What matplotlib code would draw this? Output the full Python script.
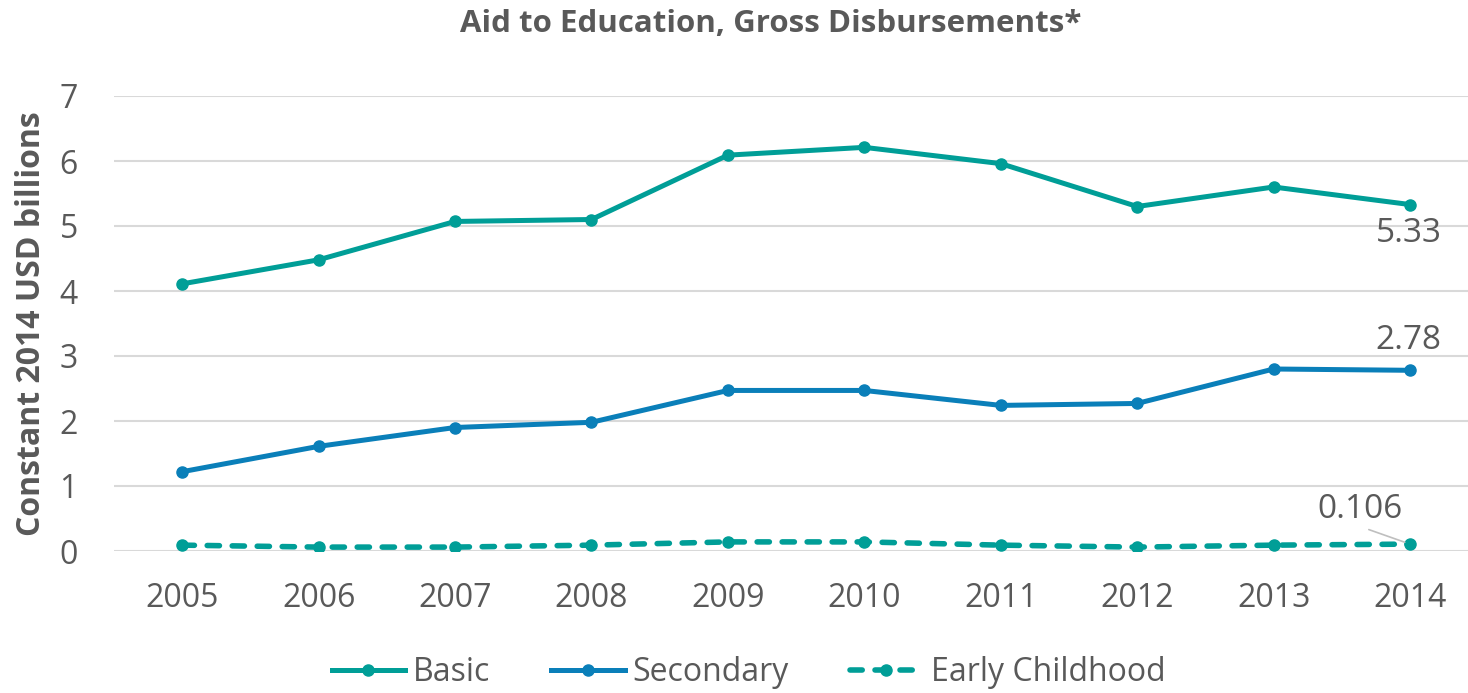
import matplotlib
matplotlib.use("Agg")
import matplotlib.pyplot as plt
from matplotlib.lines import Line2D

years = ["2005", "2006", "2007", "2008", "2009", "2010", "2011", "2012", "2013", "2014"]
basic = [4.11, 4.48, 5.07, 5.10, 6.09, 6.21, 5.96, 5.30, 5.60, 5.33]
secondary = [1.22, 1.61, 1.90, 1.98, 2.47, 2.47, 2.24, 2.27, 2.80, 2.78]
early_childhood = [0.09, 0.06, 0.06, 0.09, 0.14, 0.14, 0.09, 0.06, 0.09, 0.106]
series_names = ["Basic", "Secondary", "Early Childhood"]
y_ticks = [0, 1, 2, 3, 4, 5, 6, 7]

TEAL = "#009E97"
BLUE = "#0A7FB9"
GRAY = "#595959"
GRID = "#D9D9D9"

plt.rcParams["font.family"] = ["Open Sans", "DejaVu Sans"]

fig = plt.figure(figsize=(14.68, 6.93), dpi=100)
ax = fig.add_axes([114 / 1468, 1 - 551 / 693, 1 - 114 / 1468, (551 - 96) / 693])

x = list(range(len(years)))
lw = 3.6
lw_dash = 4.0
ms = 8
dash = (0, (2.2, 2.3))
ax.plot(x, basic, color=TEAL, lw=lw, marker="o", ms=ms, solid_capstyle="round", zorder=3)
ax.plot(x, secondary, color=BLUE, lw=lw, marker="o", ms=ms, solid_capstyle="round", zorder=3)
ax.plot(x, early_childhood, color=TEAL, lw=lw_dash, marker="o", ms=ms,
        ls=dash, dash_capstyle="round", zorder=3)

ax.set_xlim(-0.5, 9.425)
ax.set_ylim(0, 7)
ax.set_yticks(y_ticks)
ax.set_xticks(x)
ax.set_xticklabels(years)
ax.tick_params(axis="both", length=0, labelsize=23, colors=GRAY)
ax.tick_params(axis="x", pad=22)
ax.tick_params(axis="y", pad=26)
ax.grid(axis="y", color=GRID, lw=1.5, zorder=0)
for s in ax.spines.values():
    s.set_visible(False)

ax.set_ylabel("Constant 2014 USD billions", fontsize=23, fontweight="bold", color=GRAY, labelpad=8)

fig.text(0.525, 0.966, "Aid to Education, Gross Disbursements*", ha="center", va="center",
         fontsize=22.5, fontweight="bold", color=GRAY)

# end-point value labels
ax.annotate(f"{basic[-1]:.2f}", (x[-1], basic[-1]), xytext=(-1, -21), textcoords="offset points",
            ha="center", va="center", fontsize=24, color=GRAY)
ax.annotate(f"{secondary[-1]:.2f}", (x[-1], secondary[-1]), xytext=(-1, 21.5), textcoords="offset points",
            ha="center", va="center", fontsize=24, color=GRAY)
ax.annotate(f"{early_childhood[-1]:.3f}", (x[-1], early_childhood[-1]), xytext=(-36, 25),
            textcoords="offset points", ha="center", va="center", fontsize=24, color=GRAY,
            arrowprops=dict(arrowstyle="-", color="#BFBFBF", lw=1.2, shrinkA=2, shrinkB=4,
                            relpos=(0.48, 0.0)))

handles = [
    Line2D([], [], color=TEAL, lw=lw, marker="o", ms=ms),
    Line2D([], [], color=BLUE, lw=lw, marker="o", ms=ms),
    Line2D([], [], color=TEAL, lw=lw_dash, marker="o", ms=ms, ls=dash, dash_capstyle="round"),
]
fig.legend(handles, series_names, loc="center", bbox_to_anchor=(0.51, 0.03), ncol=3,
           frameon=False, fontsize=23, labelcolor=GRAY, handlelength=2.3, handletextpad=0.25,
           columnspacing=1.9)

fig.savefig("out.png", dpi=100)
